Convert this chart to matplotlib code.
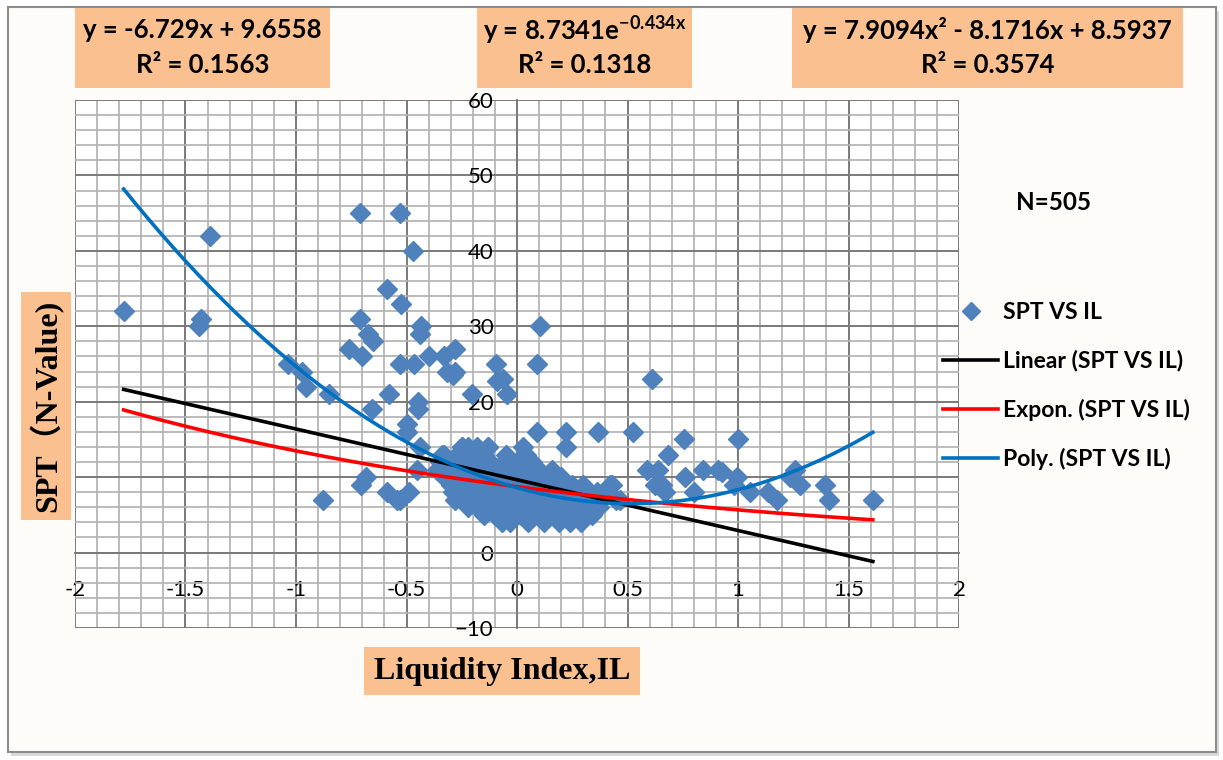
import numpy as np
import matplotlib
matplotlib.use('Agg')
import matplotlib.pyplot as plt
from matplotlib.patches import Rectangle
from matplotlib.lines import Line2D
from matplotlib.ticker import MultipleLocator, FuncFormatter

plt.rcParams['font.family'] = ['Lato', 'DejaVu Sans']
plt.rcParams['mathtext.fontset'] = 'custom'
plt.rcParams['mathtext.rm'] = 'Lato'
plt.rcParams['mathtext.bf'] = 'Lato:bold'

# scattered points (IL, SPT N-value)
il_out = [-1.78, -1.39, -1.44, -1.43, -0.71, -0.53, -0.47, -0.59, -0.525, -0.71,
          -0.676, -0.65, -0.76, -0.70, -0.434, -0.44, -0.53, -0.466, -0.40, -0.33,
          -0.28, -0.315, -0.28, -0.096, -0.063, 0.09, 0.104, -1.035, -0.974, -0.955,
          -0.85, -0.58, -0.657, -0.685, -0.706, -0.876, -0.59, -0.544, -0.29, -0.09,
          -0.047, -0.447, -0.447, -0.205, -0.50, -0.50, 0.089, 0.22, 0.368, 0.523,
          0.22, 0.026, -0.13, -0.25, -0.44, 0.157, 0.42, 0.587, -0.454, -0.49,
          -0.53, 0.02, 0.05, 0.61, 0.756, 1.0, 0.685, 0.64, 0.76, 0.84,
          0.91, 0.926, 0.994, 0.98, 0.624, 0.655, 0.67, 0.80, 0.43, 0.466,
          1.054, 1.137, 1.175, 1.235, 1.258, 1.28, 1.394, 1.41, 1.61, -0.34]
spt_out = [32, 42, 30, 31, 45, 45, 40, 35, 33, 31,
           29, 28, 27, 26, 30, 29, 25, 25, 26, 26,
           27, 24, 24, 25, 23, 25, 30, 25, 24, 22,
           21, 21, 19, 10, 9, 7, 8, 7, 23.6, 22.7,
           21, 20, 19, 21, 17, 16, 16, 16, 16, 16,
           14, 14, 14, 14, 14, 11, 9, 11, 11, 8,
           7, 12, 10, 23, 15, 15, 13, 11, 10, 11,
           11, 10.7, 10, 9, 9, 9, 8, 8, 9, 7,
           8, 8, 7, 10, 11, 9, 9, 7, 7, 13]

# dense cluster near IL = 0, grouped by SPT value
cluster = {
    14: [-0.25, -0.22, -0.18, -0.13],
    13: [-0.33, -0.27, -0.24, -0.20, -0.15, -0.05, 0.04],
    12: [-0.35, -0.30, -0.26, -0.22, -0.18, -0.12, -0.06, 0.0, 0.02, 0.07],
    11: [-0.36, -0.31, -0.28, -0.25, -0.21, -0.17, -0.13, -0.09, -0.04, 0.01, 0.05, 0.10],
    10: [-0.33, -0.29, -0.26, -0.23, -0.20, -0.16, -0.12, -0.08, -0.05, -0.01, 0.03, 0.06,
         0.10, 0.14, 0.20],
    9: [-0.30, -0.27, -0.24, -0.21, -0.18, -0.15, -0.11, -0.07, -0.03, 0.0, 0.04, 0.08,
        0.12, 0.16, 0.20, 0.25, 0.30],
    8: [-0.29, -0.26, -0.22, -0.19, -0.16, -0.12, -0.09, -0.05, -0.02, 0.02, 0.05, 0.09,
        0.13, 0.17, 0.21, 0.24, 0.28, 0.32, 0.36, 0.40],
    7: [-0.28, -0.24, -0.20, -0.17, -0.13, -0.10, -0.06, -0.03, 0.01, 0.04, 0.08, 0.11,
        0.15, 0.19, 0.23, 0.27, 0.31, 0.35, 0.38, 0.45],
    6: [-0.22, -0.18, -0.14, -0.11, -0.07, -0.04, 0.0, 0.03, 0.07, 0.10, 0.14, 0.18,
        0.22, 0.26, 0.30, 0.34, 0.37],
    5: [-0.15, -0.10, -0.06, -0.02, 0.02, 0.06, 0.10, 0.14, 0.18, 0.22, 0.26, 0.30, 0.34],
    4: [-0.07, -0.03, 0.05, 0.12, 0.19, 0.24, 0.29],
}

# trendline coefficients shown on the chart
lin_a, lin_b = -6.729, 9.6558
exp_a, exp_b = 8.7341, -0.434
poly_a, poly_b, poly_c = 7.9094, -8.1716, 8.5937
x_min, x_max = -1.78, 1.61

il = list(il_out)
spt = list(spt_out)
for v, xs in cluster.items():
    il += xs
    spt += [v] * len(xs)

W, H = 1223, 760
fig = plt.figure(figsize=(W / 100, H / 100), dpi=100)
fig.patch.set_facecolor('white')

# outer chart frame with a soft shadow
fig.patches.append(Rectangle((11 / W, 1 - 756 / H), 1208 / W, 745 / H, transform=fig.transFigure,
                             facecolor='#d9d9d9', edgecolor='none', zorder=-6))
fig.patches.append(Rectangle((8 / W, 1 - 752 / H), 1208 / W, 745 / H, transform=fig.transFigure,
                             facecolor='#fdfcf9', edgecolor='#8c8c8c', lw=1.5, zorder=-5))

ax = fig.add_axes([75 / W, 1 - 628 / H, 884 / W, 528 / H])
ax.set_zorder(2)
ax.set_facecolor('white')
ax.set_xlim(-2, 2)
ax.set_ylim(-10, 60)
ax.xaxis.set_major_locator(MultipleLocator(0.5))
ax.xaxis.set_minor_locator(MultipleLocator(0.1))
ax.yaxis.set_major_locator(MultipleLocator(10))
ax.yaxis.set_minor_locator(MultipleLocator(2))
ax.xaxis.set_major_formatter(FuncFormatter(lambda v, p: '%g' % v))
ax.grid(which='major', color='#7a7a7a', lw=1.4)
ax.grid(which='minor', color='#b0b0b0', lw=1.2)
ax.set_axisbelow(True)
for s in ['top', 'right']:
    ax.spines[s].set_visible(False)
for s in ['left', 'bottom']:
    ax.spines[s].set_position(('data', 0))
    ax.spines[s].set_color('#7a7a7a')
    ax.spines[s].set_linewidth(1.4)
ax.tick_params(which='both', length=0)
ax.tick_params(axis='y', pad=17, labelsize=16)
ax.tick_params(axis='x', pad=20, labelsize=16)

ax.plot(il, spt, 'D', ms=10.5, color='#4f81bd', mec='#4f81bd', zorder=3)

xx = np.linspace(x_min, x_max, 300)
ax.plot(xx, lin_a * xx + lin_b, color='black', lw=2.6, zorder=4)
ax.plot(xx, exp_a * np.exp(exp_b * xx), color='#ff0000', lw=2.6, zorder=4)
ax.plot(xx, poly_a * xx ** 2 + poly_b * xx + poly_c, color='#0070c0', lw=2.6, zorder=4)

# equation boxes
boxes = [
    (75, 330, 'y = -6.729x + 9.6558', 'R² = 0.1563'),
    (477, 692, 'y = 8.7341e$^{\\mathbf{-0.434x}}$', 'R² = 0.1318'),
    (792, 1183, 'y = 7.9094x² - 8.1716x + 8.5937', 'R² = 0.3574'),
]
for x0, x1, l1, l2 in boxes:
    fig.patches.append(Rectangle((x0 / W, 1 - 88 / H), (x1 - x0) / W, 80 / H,
                                 transform=fig.transFigure, facecolor='#fac090',
                                 edgecolor='none', zorder=1))
    xc = (x0 + x1) / 2 / W
    fig.text(xc, 1 - 30 / H, l1, ha='center', va='center', fontsize=18.5, fontweight='bold')
    fig.text(xc, 1 - 65 / H, l2, ha='center', va='center', fontsize=18.5, fontweight='bold')

# axis titles in peach boxes
fig.text(46 / W, 1 - 406 / H, 'SPT（N-Value)', rotation=90, ha='center', va='center',
         fontsize=23, fontweight='bold', family=['Liberation Serif', 'Noto Sans CJK SC'],
         bbox=dict(boxstyle='square,pad=0.25', fc='#fac090', ec='none'))
fig.text(502 / W, 1 - 671 / H, 'Liquidity Index,IL', ha='center', va='center',
         fontsize=23, fontweight='bold', family='Liberation Serif',
         bbox=dict(boxstyle='square,pad=0.3', fc='#fac090', ec='none'))

fig.text(1054 / W, 1 - 202 / H, 'N=505', ha='center', va='center', fontsize=17.5, fontweight='bold')

handles = [
    Line2D([], [], ls='none', marker='D', ms=9, color='#4f81bd'),
    Line2D([], [], color='black', lw=2.6),
    Line2D([], [], color='#ff0000', lw=2.6),
    Line2D([], [], color='#0070c0', lw=2.6),
]
labels = ['SPT VS IL', 'Linear (SPT VS IL)', 'Expon. (SPT VS IL)', 'Poly. (SPT VS IL)']
fig.legend(handles, labels, loc='upper left', bbox_to_anchor=(943 / W, 1 - 302 / H),
           frameon=False, prop=dict(size=16.5, weight='bold'), handlelength=2.4,
           handletextpad=0.2, labelspacing=1.18, borderpad=0, borderaxespad=0)

fig.savefig('out.png', dpi=100)
